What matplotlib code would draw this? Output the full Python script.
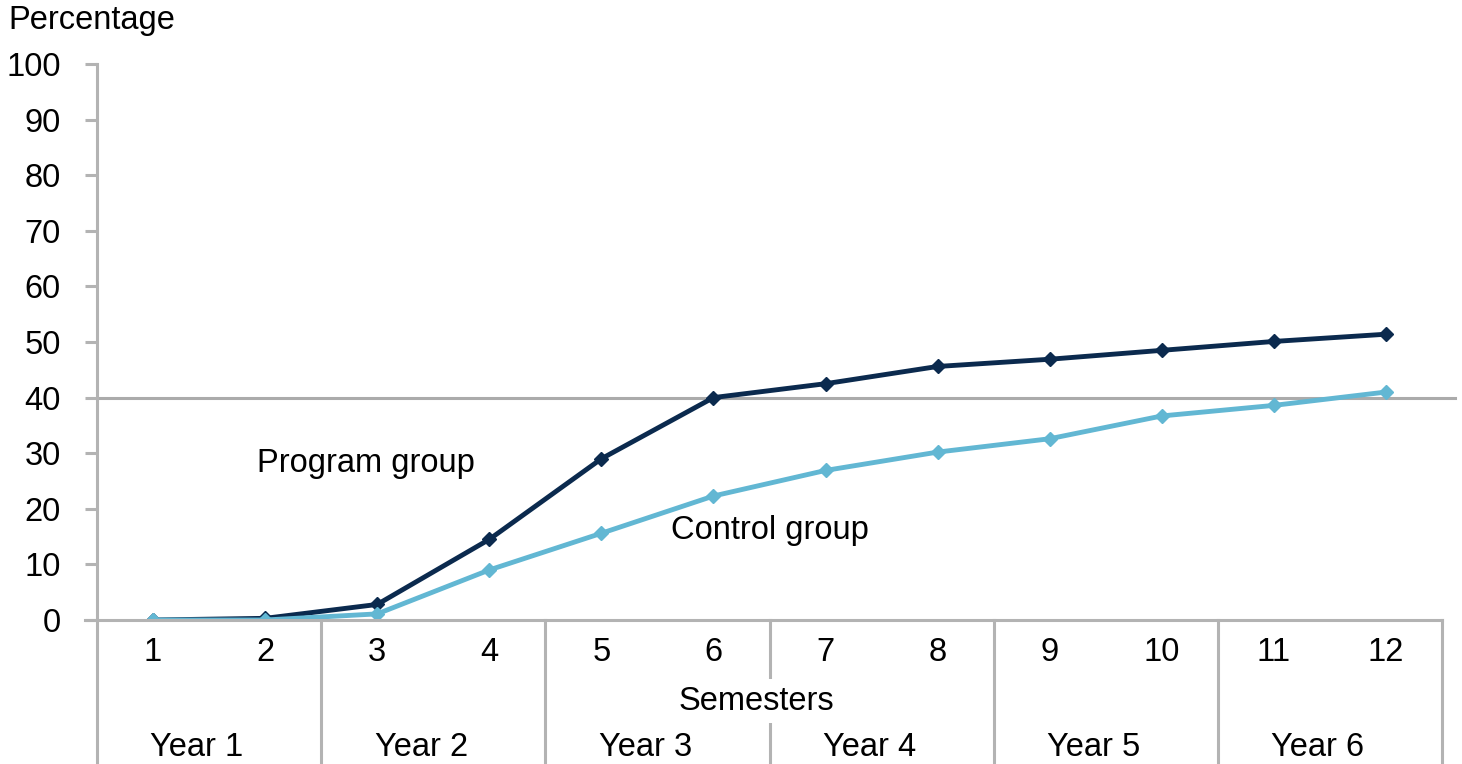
import matplotlib.pyplot as plt
from matplotlib.lines import Line2D

plt.rcParams['font.family'] = ['Liberation Sans', 'DejaVu Sans']

semesters = ['1', '2', '3', '4', '5', '6', '7', '8', '9', '10', '11', '12']
years = ['Year 1', 'Year 2', 'Year 3', 'Year 4', 'Year 5', 'Year 6']
program = [0, 0.3, 2.8, 14.5, 29.0, 40.0, 42.5, 45.6, 46.9, 48.5, 50.1, 51.4]
control = [0, 0, 1.1, 9.0, 15.6, 22.3, 26.9, 30.2, 32.6, 36.7, 38.6, 41.0]
yticks = [0, 10, 20, 30, 40, 50, 60, 70, 80, 90, 100]

W, H = 1462, 764
fig = plt.figure(figsize=(W / 100, H / 100), dpi=100)
left, right, top, bot = 97, 1442, 64, 620
ax = fig.add_axes([left / W, 1 - bot / H, (right - left) / W, (bot - top) / H])

gray = '#b3b3b3'
navy = '#0b2a4e'
light = '#62b7d3'
fs = 23.5

xs = list(range(1, 13))
ax.axhline(40, xmin=0, xmax=(1455 - left) / (right - left), color='#ababab', lw=2.2, clip_on=False, zorder=1)
ax.plot(xs, program, color=navy, lw=3.5, marker='D', ms=7.5, zorder=3)
ax.plot(xs, control, color=light, lw=3.5, marker='D', ms=7.5, zorder=3)

ax.set_xlim(0.5, 12.5)
ax.set_ylim(0, 100)
for s in ['top', 'right', 'bottom']:
    ax.spines[s].set_visible(False)
ax.spines['left'].set_color(gray)
ax.spines['left'].set_linewidth(2.2)
ax.spines['left'].set_bounds(0, 100)

ax.set_yticks(yticks)
ax.tick_params(axis='y', length=9, width=2.2, color=gray, labelsize=fs, pad=17)
ax.set_xticks(xs)
ax.set_xticklabels(semesters)
ax.tick_params(axis='x', length=0, labelsize=fs, pad=12)

# bottom axis line (extends left like a tick)
fig.add_artist(Line2D([85 / W, right / W], [1 - bot / H] * 2, color=gray, lw=2.2))
# vertical dividers every two semesters
for i in range(7):
    x = (left + i * (right - left) / 6) / W
    fig.add_artist(Line2D([x, x], [1 - bot / H, 0], color=gray, lw=2.2, zorder=1))

for i, yr in enumerate(years):
    x = (left + (i + 0.5) * (right - left) / 6 - 12) / W
    fig.text(x, 1 - 747 / H, yr, ha='center', va='center', fontsize=fs)

fig.text(756 / W, 1 - 701 / H, 'Semesters', ha='center', va='center', fontsize=fs,
         bbox=dict(facecolor='white', edgecolor='none', pad=5), zorder=5)
fig.text(8 / W, 1 - 20 / H, 'Percentage', ha='left', va='center', fontsize=fs)

fig.text(366 / W, 1 - 463 / H, 'Program group', ha='center', va='center', fontsize=fs)
fig.text(770 / W, 1 - 531 / H, 'Control group', ha='center', va='center', fontsize=fs)

fig.savefig('out.png', dpi=100)
